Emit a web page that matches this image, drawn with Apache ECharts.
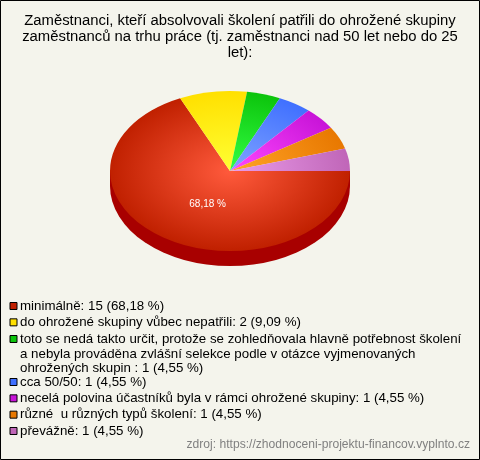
<!DOCTYPE html>
<html><head><meta charset="utf-8">
<style>html,body{margin:0;padding:0;background:#f4f4ec}#c{width:480px;height:460px}</style>
<script src="https://cdn.jsdelivr.net/npm/echarts@6/dist/echarts.min.js"></script></head>
<body><div id="c"></div>
<script>
const titleLines = ["Zaměstnanci, kteří absolvovali školení patřili do ohrožené skupiny","zaměstnanců na trhu práce (tj. zaměstnanci nad 50 let nebo do 25","let):"];
const categories = ["minimálně","do ohrožené skupiny vůbec nepatřili","toto se nedá takto určit, protože se zohledňovala hlavně potřebnost školení","cca 50/50","necelá polovina účastníků byla v rámci ohrožené skupiny","různé  u různých typů školení","převážně"];
const continuation = ["a nebyla prováděna zvlášní selekce podle v otázce vyjmenovaných","ohrožených skupin "];
const values = [15,2,1,1,1,1,1];
const percents = ["68,18 %","9,09 %","4,55 %","4,55 %","4,55 %","4,55 %","4,55 %"];
const edgeColors = ["#c02000","#ffe000","#0cc40c","#4070ff","#c814d8","#e87800","#c066b8"];
const centerColors = ["#ff5a3c","#ffff33","#33ff44","#80a4ff","#ff48ff","#ffa428","#ea9cea"];
const sideColor = "#a80000";
const source = "zdroj: https://zhodnoceni-projektu-financov.vyplnto.cz";

const cx=230, cy=171, rx=120, ry=80, depth=15, labelAngle=114*Math.PI/180, labelR=55;
const total = values.reduce((a,b)=>a+b,0);
const starts = []; { let s=0; values.forEach(v=>{starts.push(s); s+=v/total*Math.PI*2;}); }
const labelOf = i => categories[i]+": "+values[i]+" ("+percents[i]+")";

const series = categories.map((name,i)=>({
  type:'custom', name, coordinateSystem:'none', silent:true, animation:false,
  itemStyle:{color:edgeColors[i]},
  data:[{value:values[i],name}],
  renderItem(params,api){
    const a0=starts[i], a1=a0+api.value(0)/total*Math.PI*2;
    const scale=ry/rx, children=[];
    const sideEnd=Math.min(a1,Math.PI);
    if(a0<Math.PI){
      children.push({type:'rect',shape:{x:cx+rx*Math.cos(sideEnd),y:cy,width:rx*(Math.cos(a0)-Math.cos(sideEnd)),height:depth},style:{fill:sideColor}});
      children.push({type:'group',x:cx,y:cy+depth,scaleY:scale,children:[{type:'sector',shape:{cx:0,cy:0,r:rx,startAngle:a0,endAngle:sideEnd,clockwise:true},style:{fill:sideColor}}]});
    }
    children.push({type:'group',x:cx,y:cy,scaleY:scale,children:[{type:'sector',shape:{cx:0,cy:0,r:rx,startAngle:a0,endAngle:a1,clockwise:true},
      style:{fill:{type:'radial',x:0,y:0,r:rx,global:true,colorStops:[{offset:0,color:centerColors[i]},{offset:1,color:edgeColors[i]}]}}}]});
    if(i===0) children.push({type:'text',x:cx+labelR*Math.cos(labelAngle),y:cy+labelR*Math.sin(labelAngle)*scale,
      style:{text:percents[i],fill:'#fff',font:'10px "Liberation Sans"',align:'center',verticalAlign:'middle'}});
    return {type:'group',children};
  }
}));

const legendBase = {orient:'vertical',left:9.5,itemWidth:7,itemHeight:7,itemGap:2.33,padding:0,icon:'rect',selectedMode:false,
  textStyle:{fontFamily:'"Liberation Sans"',fontSize:13.3,color:'#000',lineHeight:14,padding:[0,0,0,-2]},
  itemStyle:{borderColor:'#000',borderWidth:1},
  formatter:n=>labelOf(categories.indexOf(n))};
const chart = echarts.init(document.getElementById('c'),null,{renderer:'canvas'});
chart.setOption({
  backgroundColor:'#f4f4ec', animation:false,
  title:{text:titleLines.join("\n"),left:'center',top:13,padding:0,textStyle:{fontFamily:'"Liberation Sans"',fontSize:14.85,fontWeight:'normal',color:'#000',lineHeight:16}},
  legend:[
    Object.assign({},legendBase,{top:299,data:categories.slice(0,2)}),
    Object.assign({},legendBase,{top:332,data:categories.slice(2,3),formatter:n=>categories[2]}),
    Object.assign({},legendBase,{top:375,data:categories.slice(3)})
  ],
  graphic:[
    {type:'rect',shape:{x:0.5,y:0.5,width:479,height:459},style:{fill:'none',stroke:'#000',lineWidth:1},silent:true},
    {type:'text',left:20,top:347,style:{text:continuation[0]+"\n"+continuation[1]+": "+values[2]+" ("+percents[2]+")",font:'13.3px "Liberation Sans"',fill:'#000',lineHeight:14}},
    {type:'text',right:10,top:439,style:{text:source,font:'12.1px "Liberation Sans"',fill:'#808080'}}
  ],
  series
});
</script></body></html>
